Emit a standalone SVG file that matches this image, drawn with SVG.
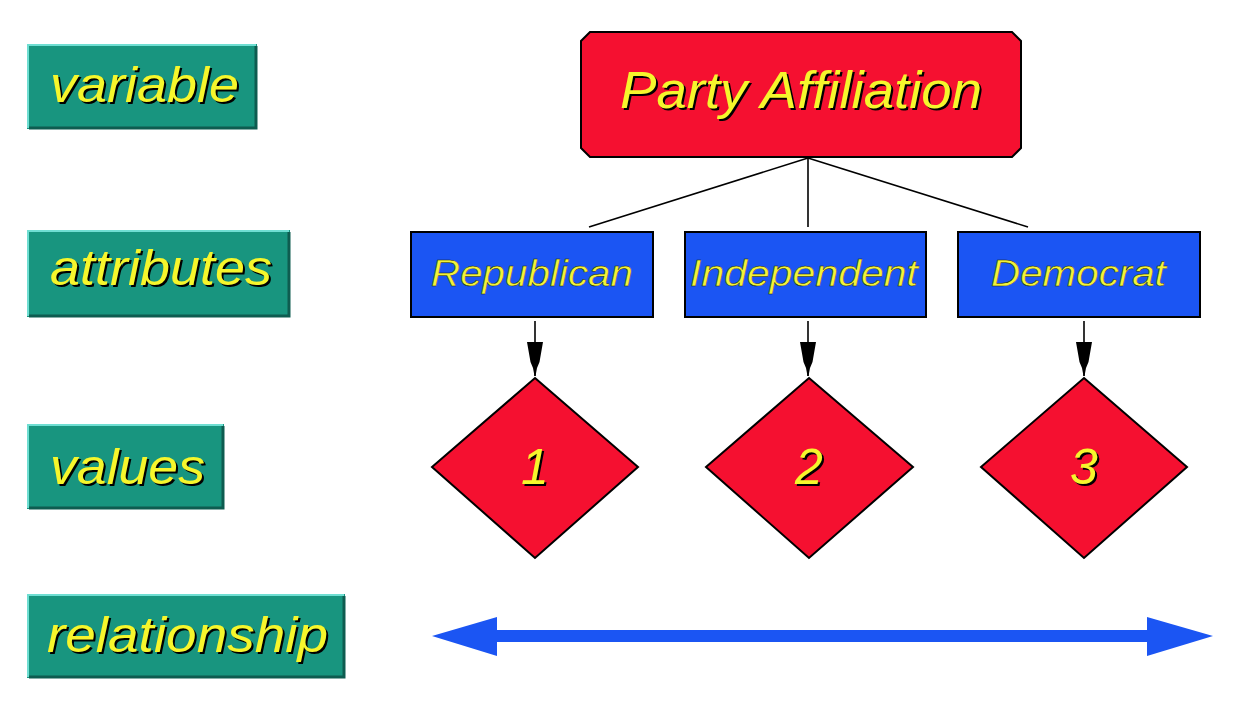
<svg xmlns="http://www.w3.org/2000/svg" width="1244" height="702" viewBox="0 0 1244 702">
<style>
.teal{fill:#18957f;}
.hl{fill:none;stroke:#6fded2;stroke-width:2;}
.sh{fill:none;stroke:#0e5c50;stroke-width:3;}
.lbl{font-family:"Liberation Sans",Arial,sans-serif;font-style:italic;font-size:50px;fill:#f6f62c;}
.lblsh{font-family:"Liberation Sans",Arial,sans-serif;font-style:italic;font-size:50px;fill:#000;}
.red{fill:#f51030;stroke:#000;stroke-width:2;}
.blue{fill:#1b55f3;stroke:#000;stroke-width:2;}
.att{font-family:"Liberation Sans",Arial,sans-serif;font-style:italic;font-size:37px;fill:#f2f23a;stroke:#1a1a00;stroke-width:0.4;}
.num{font-family:"Liberation Sans",Arial,sans-serif;font-style:italic;font-size:50px;fill:#f6f62c;text-anchor:middle;}
.numsh{font-family:"Liberation Sans",Arial,sans-serif;font-style:italic;font-size:50px;fill:#000;text-anchor:middle;}
.conn{stroke:#000;stroke-width:1.6;fill:none;}
</style>
<defs>
<marker id="ah" viewBox="0 0 34 16" refX="34" refY="8" markerWidth="34" markerHeight="16" markerUnits="userSpaceOnUse" orient="auto">
<path d="M0,0 L0,16 L20,12.5 L26,10 L34,8.5 L34,7.5 L26,6 L20,3.5 Z" fill="#000"/>
</marker>
</defs>
<rect width="1244" height="702" fill="#fff"/>

<g id="label-variable">
<rect class="teal" x="27" y="44" width="230" height="85"/>
<polyline class="sh" points="29,128 256,128 256,46"/>
<polyline class="hl" points="28,128 28,45 256,45"/>
<text class="lblsh" x="52" y="104" textLength="189" lengthAdjust="spacingAndGlyphs">variable</text>
<text class="lbl" x="50" y="102" textLength="189" lengthAdjust="spacingAndGlyphs">variable</text>
</g>
<g id="label-attributes">
<rect class="teal" x="27" y="230" width="263" height="87"/>
<polyline class="sh" points="29,316 289,316 289,232"/>
<polyline class="hl" points="28,316 28,231 289,231"/>
<text class="lblsh" x="52" y="287" textLength="222" lengthAdjust="spacingAndGlyphs">attributes</text>
<text class="lbl" x="50" y="285" textLength="222" lengthAdjust="spacingAndGlyphs">attributes</text>
</g>
<g id="label-values">
<rect class="teal" x="27" y="424" width="197" height="85"/>
<polyline class="sh" points="29,508 223,508 223,426"/>
<polyline class="hl" points="28,508 28,425 223,425"/>
<text class="lblsh" x="52" y="486" textLength="155" lengthAdjust="spacingAndGlyphs">values</text>
<text class="lbl" x="50" y="484" textLength="155" lengthAdjust="spacingAndGlyphs">values</text>
</g>
<g id="label-relationship">
<rect class="teal" x="27" y="594" width="318" height="84"/>
<polyline class="sh" points="29,677 344,677 344,596"/>
<polyline class="hl" points="28,677 28,595 344,595"/>
<text class="lblsh" x="49" y="654" textLength="281" lengthAdjust="spacingAndGlyphs">relationship</text>
<text class="lbl" x="47" y="652" textLength="281" lengthAdjust="spacingAndGlyphs">relationship</text>
</g>

<g id="connectors">
<line class="conn" x1="808" y1="158" x2="589" y2="227"/>
<line class="conn" x1="808" y1="158" x2="808" y2="227"/>
<line class="conn" x1="808" y1="158" x2="1028" y2="227"/>
<line class="conn" x1="535" y1="321" x2="535" y2="376" marker-end="url(#ah)"/>
<line class="conn" x1="808" y1="321" x2="808" y2="376" marker-end="url(#ah)"/>
<line class="conn" x1="1084" y1="321" x2="1084" y2="376" marker-end="url(#ah)"/>
<g id="relationship-arrow" fill="#1b55f3">
<rect x="495" y="630" width="654" height="12"/>
<polygon points="432,636 497,617 497,656"/>
<polygon points="1213,636 1147,617 1147,656"/>
</g>
</g>

<g id="node-party">
<path class="red" d="M590,32 L1012,32 L1021,41 L1021,148 L1012,157 L590,157 L581,148 L581,41 Z"/>
<text class="lblsh" x="622" y="110" textLength="362" lengthAdjust="spacingAndGlyphs" style="font-size:52px">Party Affiliation</text>
<text class="lbl" x="620" y="108" textLength="362" lengthAdjust="spacingAndGlyphs" style="font-size:52px">Party Affiliation</text>
</g>

<g id="node-republican">
<rect class="blue" x="411" y="232" width="242" height="85"/>
<text class="att" x="431" y="286" textLength="202" lengthAdjust="spacingAndGlyphs">Republican</text>
</g>
<g id="node-independent">
<rect class="blue" x="685" y="232" width="241" height="85"/>
<text class="att" x="690" y="286" textLength="228" lengthAdjust="spacingAndGlyphs">Independent</text>
</g>
<g id="node-democrat">
<rect class="blue" x="958" y="232" width="242" height="85"/>
<text class="att" x="991" y="286" textLength="175" lengthAdjust="spacingAndGlyphs">Democrat</text>
</g>

<g id="node-1">
<polygon class="red" points="535,378 638,467 535,558 432,467"/>
<text class="numsh" x="537" y="486">1</text>
<text class="num" x="535" y="484">1</text>
</g>
<g id="node-2">
<polygon class="red" points="809,378 913,467 809,558 706,467"/>
<text class="numsh" x="811" y="486">2</text>
<text class="num" x="809" y="484">2</text>
</g>
<g id="node-3">
<polygon class="red" points="1084,378 1187,467 1084,558 981,467"/>
<text class="numsh" x="1086" y="486">3</text>
<text class="num" x="1084" y="484">3</text>
</g>
</svg>
